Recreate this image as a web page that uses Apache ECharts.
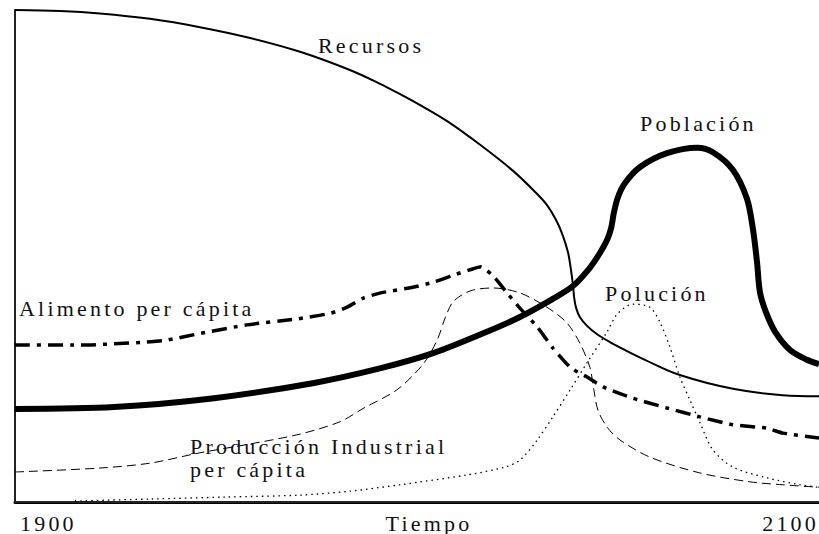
<!DOCTYPE html>
<html>
<head>
<meta charset="utf-8">
<script src="https://cdn.jsdelivr.net/npm/echarts@6/dist/echarts.min.js"></script>
<style>
  html, body { margin: 0; padding: 0; background: #fff; }
  #chart { width: 819px; height: 534px; }
  #chart text { letter-spacing: 3.2px; }
</style>
</head>
<body>
<div id="chart"></div>
<script>
// Levels on a 0–100 scale against the year, 1900–2100.
const recursos = [
  [1900, 100], [1911.2, 99.8], [1921.1, 99.3], [1933.6, 98.2], [1946.0, 96.5],
  [1958.5, 94.3], [1970.9, 91.5], [1983.3, 87.8], [1990.8, 85.0], [1995.8, 82.9],
  [2000.7, 80.7], [2007.5, 77.4], [2015.7, 72.6], [2023.9, 67.3], [2029.4, 63.0],
  [2032.3, 60.4], [2034.6, 57.3], [2036.3, 54.1], [2037.6, 50.6], [2038.3, 47.2],
  [2038.8, 44.1], [2039.1, 41.5], [2039.6, 39.4], [2040.5, 37.6], [2042.3, 35.8],
  [2044.8, 34.1], [2048.0, 32.5], [2051.7, 30.9], [2056.7, 28.9], [2065.4, 25.8],
  [2078.6, 23.0], [2091.0, 21.7], [2100, 21.5]
];

const poblacion = [
  [1900, 18.9], [1924.6, 19.3], [1949.5, 21.1], [1974.4, 24.2], [1991.0, 27.2],
  [2004.2, 30.3], [2017.4, 34.6], [2025.6, 37.6], [2033.8, 41.3], [2038.8, 43.9],
  [2043.0, 47.6], [2045.5, 50.6], [2047.3, 53.3], [2048.3, 55.7], [2049.0, 58.9],
  [2050.0, 62.0], [2051.7, 64.8], [2055.5, 68.1], [2062.2, 70.9], [2069.7, 72.0],
  [2073.6, 71.1], [2078.6, 67.5], [2082.1, 61.6], [2083.6, 55.3], [2084.6, 48.6],
  [2085.3, 42.7], [2086.8, 38.6], [2089.1, 34.6], [2092.8, 30.9], [2097.0, 28.9],
  [2100, 28.0]
];

const alimento = [
  [1900, 31.9], [1916.4, 31.9], [1932.8, 32.5], [1937.8, 32.9], [1946.3, 34.3],
  [1957.7, 36.0], [1970.1, 37.2], [1978.6, 38.4], [1982.6, 39.6], [1986.8, 41.5],
  [1991.0, 42.5], [1999.3, 43.7], [2004.2, 44.7], [2009.0, 46.1], [2013.2, 47.2],
  [2015.9, 47.8], [2019.4, 45.5], [2022.4, 42.5], [2025.6, 39.4], [2029.9, 35.6],
  [2033.8, 31.3], [2038.1, 27.4], [2042.3, 25.4], [2046.3, 23.4], [2053.7, 21.1],
  [2062.2, 19.1], [2070.4, 17.3], [2078.6, 15.7], [2087.1, 15.0], [2091.0, 14.0],
  [2100, 13.0]
];

const produccion = [
  [1900, 6.1], [1921.1, 6.9], [1933.6, 7.9], [1946.0, 10.0], [1958.5, 11.8],
  [1970.9, 13.8], [1980.8, 16.3], [1986.8, 19.1], [1995.0, 22.8], [2001.5, 28.0],
  [2005.0, 32.9], [2007.0, 37.4], [2009.0, 40.7], [2013.2, 42.9], [2018.9, 43.5],
  [2025.6, 42.5], [2032.3, 39.6], [2037.3, 36.4], [2040.5, 32.3], [2043.0, 27.4],
  [2044.0, 22.8], [2045.0, 18.7], [2047.3, 15.2], [2050.5, 12.6], [2058.0, 9.1],
  [2070.4, 5.9], [2082.8, 4.1], [2091.0, 3.5], [2100, 3.0]
];

const polucion = [
  [1914.9, 0.2], [1933.6, 0.6], [1952.2, 1.0], [1970.9, 1.4], [1983.3, 2.2],
  [1995.8, 3.5], [2012.4, 5.5], [2021.9, 7.1], [2025.6, 8.5], [2029.9, 12.6],
  [2033.8, 17.3], [2038.1, 22.8], [2042.3, 28.3], [2047.3, 34.6], [2049.8, 38.2],
  [2053.7, 40.2], [2057.9, 39.6], [2060.4, 36.6], [2062.9, 31.5], [2065.4, 25.4],
  [2067.9, 20.7], [2070.4, 16.1], [2073.6, 10.6], [2078.6, 7.1], [2087.1, 4.9],
  [2095.3, 3.5], [2100, 3.0]
];

const tickYears = [1900, 2100];
const tickLabels = ['1900', '2100'];
const axisName = 'Tiempo';

const seriesNames = ['Recursos', 'Población', 'Alimento per cápita', 'Producción Industrial\nper cápita', 'Polución'];

const FONT = '"Liberation Serif", "Times New Roman", serif';
const INK = '#000';

const chart = echarts.init(document.getElementById('chart'), null, { renderer: 'svg' });

function curve(name, data, width, type, smooth) {
  return {
    name: name,
    type: 'line',
    data: data,
    symbol: 'none',
    smooth: smooth,
    clip: false,
    lineStyle: { color: INK, width: width, type: type, cap: 'butt' },
    z: 3
  };
}

// Free-floating curve captions
function caption(text, x, y) {
  return {
    type: 'text',
    x: x, y: y,
    style: {
      text: text,
      font: '22px ' + FONT,
      fill: '#111',
      textAlign: 'left',
      textVerticalAlign: 'middle',
      lineHeight: 24
    },
    z: 10
  };
}

chart.setOption({
  animation: false,
  backgroundColor: '#fff',
  grid: { left: 15, right: 0, top: 10, bottom: 32, outerBoundsMode: 'none', containLabel: false },
  xAxis: [{
    type: 'value',
    min: 1900, max: 2100, interval: 100,
    axisLine: { show: true, onZero: false, lineStyle: { color: INK, width: 3 } },
    axisTick: { show: false },
    splitLine: { show: false },
    axisLabel: {
      margin: 13,
      color: '#111',
      fontFamily: FONT,
      fontSize: 22,
      lineHeight: 16,
      alignMinLabel: 'left',
      alignMaxLabel: 'right',
      padding: [0, 0, 0, 5],
      formatter: function (v) {
        const i = tickYears.indexOf(v);
        return i >= 0 ? tickLabels[i] : '';
      }
    },
    name: axisName,
    nameLocation: 'middle',
    nameGap: 13,
    nameMoveOverlap: false,
    nameTextStyle: {
      color: '#111', fontFamily: FONT, fontSize: 22, lineHeight: 16,
      verticalAlign: 'top', padding: [0, 0, 0, 24]
    }
  }, {
    type: 'value',
    position: 'top',
    min: 1900, max: 2100,
    axisLine: { show: true, lineStyle: { color: '#222', width: 2 } },
    axisTick: { show: false },
    axisLabel: { show: false },
    splitLine: { show: false }
  }],
  yAxis: {
    type: 'value',
    min: 0, max: 100,
    axisLine: { show: true, lineStyle: { color: '#222', width: 2 } },
    axisTick: { show: false },
    axisLabel: { show: false },
    splitLine: { show: false }
  },
  series: [
    curve(seriesNames[0], recursos, 2, 'solid', 0.35),
    curve(seriesNames[1], poblacion, 6, 'solid', 0.3),
    curve(seriesNames[2], alimento, 3.5, [15, 7, 4, 7], 0.2),
    curve(seriesNames[3], produccion, 1, [9, 5], 0.3),
    curve(seriesNames[4], polucion, 1.3, [1.5, 4], 0.3)
  ],
  graphic: [
    caption(seriesNames[0], 318, 45),
    caption(seriesNames[1], 640, 123),
    caption(seriesNames[2], 19, 308),
    caption('Producción Industrial', 190, 446),
    caption('per cápita', 190, 469),
    caption(seriesNames[4], 605, 293)
  ]
});
</script>
</body>
</html>
